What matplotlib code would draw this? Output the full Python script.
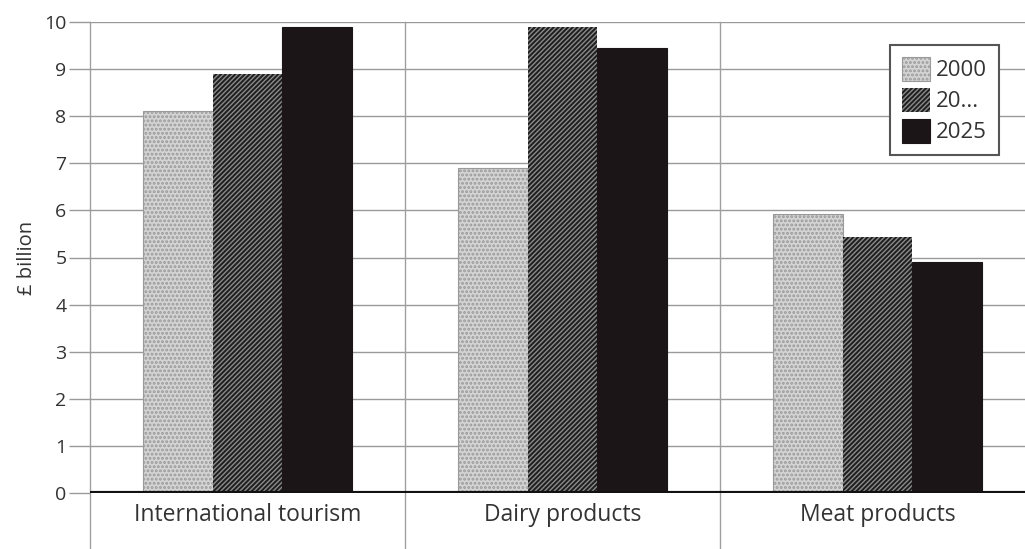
import matplotlib
matplotlib.use("Agg")
import matplotlib.pyplot as plt
import numpy as np

categories = ["International tourism", "Dairy products", "Meat products"]
series_labels = ["2000", "20...", "2025"]
values_2000 = [8.1, 6.9, 5.92]
values_20xx = [8.9, 9.9, 5.43]
values_2025 = [9.9, 9.45, 4.9]
yticks = list(range(0, 11))

plt.rcParams['font.family'] = ['Open Sans', 'DejaVu Sans']
plt.rcParams['hatch.linewidth'] = 1.4

fig = plt.figure(figsize=(10.25, 5.49), dpi=100)
ax = fig.add_axes([90/1025, 56/549, 935/1025, 471/549])

x = np.arange(len(categories))
w = 0.222
styles = [
    dict(facecolor="#d4d4d4", edgecolor="#9a9a9a", hatch="....", lw=0.8),
    dict(facecolor="#8a8a8a", edgecolor="#1e1e1e", hatch="///////", lw=0.0),
    dict(facecolor="#1b1517", edgecolor="#1b1517", hatch=None, lw=0.8),
]
series = [values_2000, values_20xx, values_2025]
handles = []
for i, (vals, st) in enumerate(zip(series, styles)):
    bars = ax.bar(x + (i - 1) * w, vals, width=w, zorder=3, label=series_labels[i],
                  facecolor=st["facecolor"], edgecolor=st["edgecolor"],
                  hatch=st["hatch"], linewidth=st["lw"])
    handles.append(bars)

ax.set_xlim(-0.5, -0.5 + 935/315)
ax.set_ylim(0, 10)

# grid
for yv in yticks:
    ax.axhline(yv, color="#9a9a9a", lw=1.0, zorder=1)
for xb in [-0.5, 0.5, 1.5]:
    ax.plot([xb, xb], [-1.25, 10], color="#a0a0a0", lw=1.0, clip_on=False, zorder=1)

ax.axhline(0, color="#111111", lw=3, zorder=4)

for s in ax.spines.values():
    s.set_visible(False)

ax.set_yticks(yticks)
ax.set_yticklabels([str(v) for v in yticks], fontsize=14, color="#333333")
ax.tick_params(axis="y", length=15, width=1.0, color="#9a9a9a", pad=2)
ax.set_xticks(x)
ax.set_xticklabels(categories, fontsize=16.5, color="#333333")
ax.tick_params(axis="x", length=0, pad=7)

ax.set_ylabel("£ billion", fontsize=14.5, color="#333333", labelpad=5)

leg = fig.legend(handles=handles, loc="upper left", bbox_to_anchor=(890/1025, 1 - 45/549),
                 borderaxespad=0,
                 fontsize=16, frameon=True, fancybox=False, handlelength=1.25, handleheight=1.25,
                 handletextpad=0.25, labelspacing=0.3, borderpad=0.55, edgecolor="#555555",
                 framealpha=1)
leg.get_frame().set_linewidth(1.5)
for t in leg.get_texts():
    t.set_color("#333333")

fig.savefig("out.png", dpi=100)
